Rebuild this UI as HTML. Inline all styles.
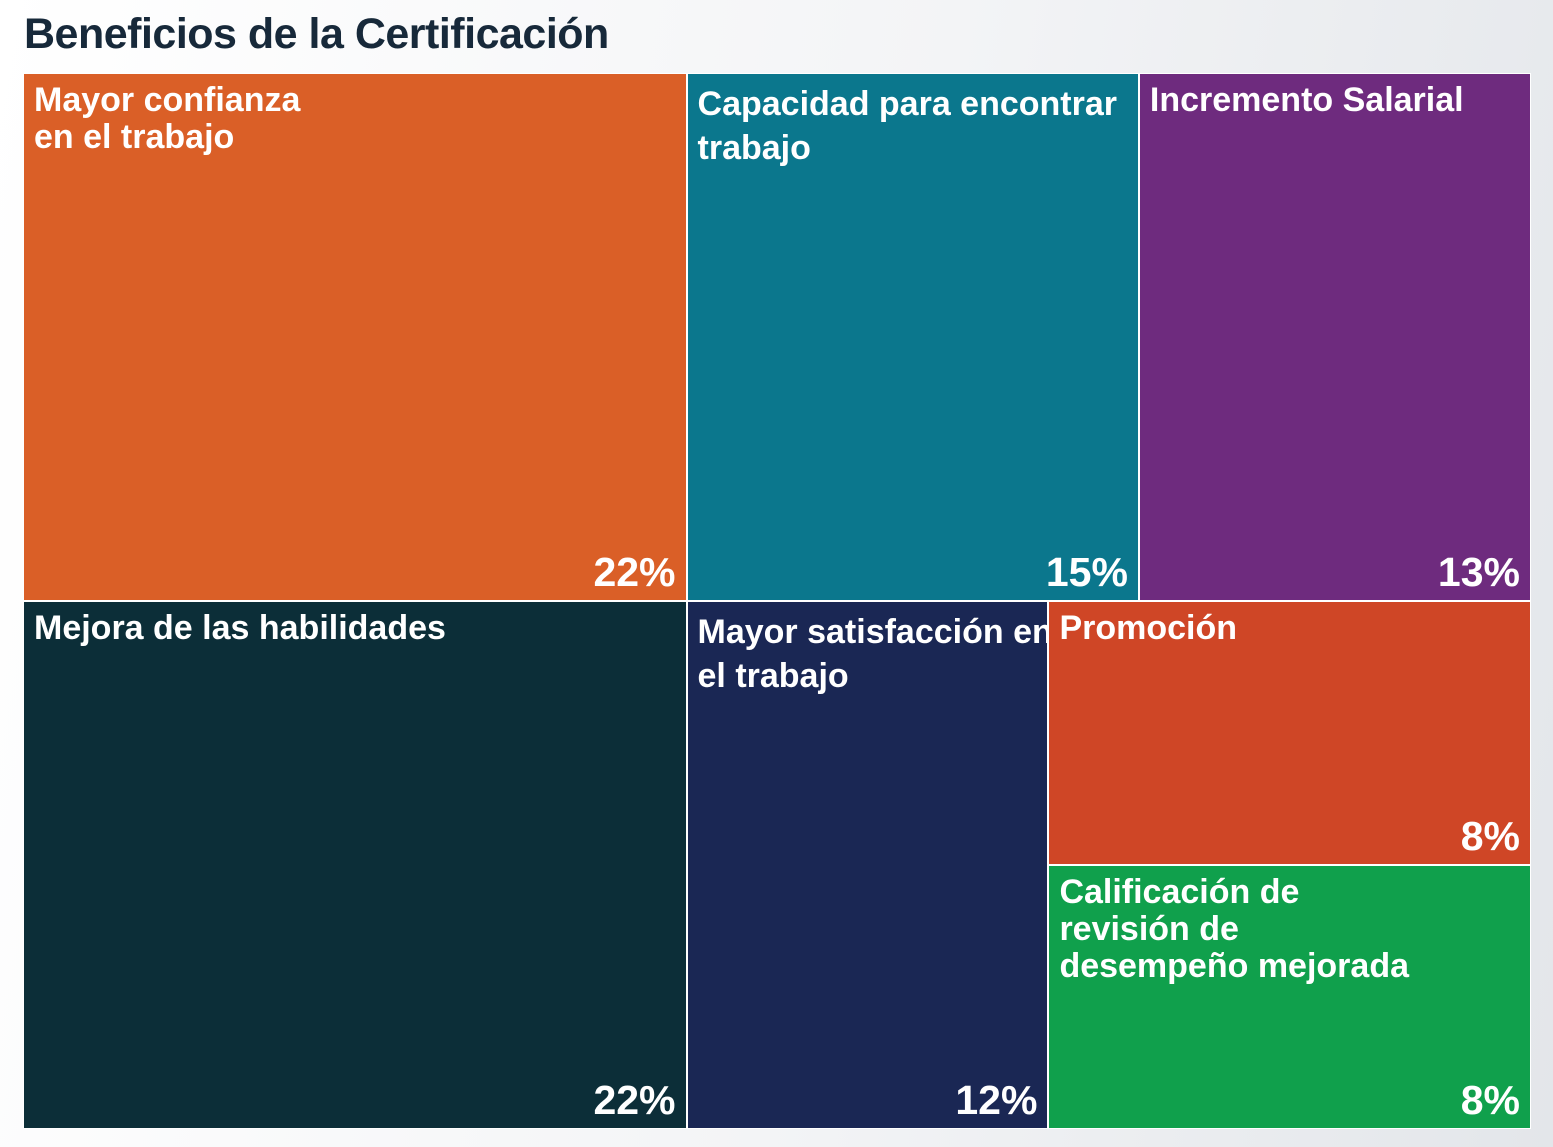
<!DOCTYPE html>
<html><head><meta charset="utf-8">
<style>
html,body{margin:0;padding:0;}
body{width:1553px;height:1147px;overflow:hidden;background:linear-gradient(100deg,#ffffff 0%,#f3f4f6 55%,#e3e6ea 100%);font-family:"Liberation Sans Narrow","Liberation Sans",sans-serif;position:relative;}
#title{position:absolute;left:24px;top:10px;font-size:43px;font-weight:bold;color:#17293a;letter-spacing:-0.5px;white-space:nowrap;}
#chart{position:absolute;left:0;top:0;width:1553px;height:1147px;}
.tile{position:absolute;box-sizing:border-box;border:1px solid #fff;color:#fff;font-weight:bold;}
.lbl{position:absolute;left:10px;top:8px;font-size:34px;line-height:37px;white-space:pre;}
.pct{position:absolute;right:10px;bottom:4px;font-size:41px;line-height:48px;}
</style></head><body>
<div id="title">Beneficios de la Certificación</div>
<div id="chart"></div>
<script>
const labels=["Mayor confianza\nen el trabajo","Capacidad para encontrar\ntrabajo","Incremento Salarial","Mejora de las habilidades","Mayor satisfacción en\nel trabajo","Promoción","Calificación de\nrevisión de\ndesempeño mejorada"];
const values=[22,15,13,22,12,8,8];
const colors=["#DA5F27","#0B778D","#6E2B7E","#0C2E38","#1A2754","#CF4626","#10A04C"];
// layout structure: rows of columns; columns hold stacked item indices
const rows=[[[0],[1],[2]],[[3],[4],[5,6]]];
const X0=23,Y0=73,W=1508,H=1056;
const total=values.reduce((a,b)=>a+b,0);
const chart=document.getElementById('chart');
let y=Y0;
rows.forEach(row=>{
  const rowSum=row.flat().reduce((a,i)=>a+values[i],0);
  const rh=H*rowSum/total;
  let x=X0;
  row.forEach(col=>{
    const colSum=col.reduce((a,i)=>a+values[i],0);
    const cw=W*colSum/rowSum;
    let cy=y;
    col.forEach(i=>{
      const h=rh*values[i]/colSum;
      const d=document.createElement('div');
      d.className='tile';
      
      
      d.style.left=x+'px';d.style.top=cy+'px';d.style.width=cw+'px';d.style.height=h+'px';
      d.style.background=colors[i];
      const l=document.createElement('div');l.className='lbl';l.textContent=labels[i];
      
      
      if(i===1||i===4){l.style.lineHeight='44px';}
      const p=document.createElement('div');p.className='pct';p.textContent=values[i]+'%';
      
      
      d.appendChild(l);d.appendChild(p);chart.appendChild(d);
      cy+=h;
    });
    x+=cw;
  });
  y+=rh;
});
</script>
</body></html>
